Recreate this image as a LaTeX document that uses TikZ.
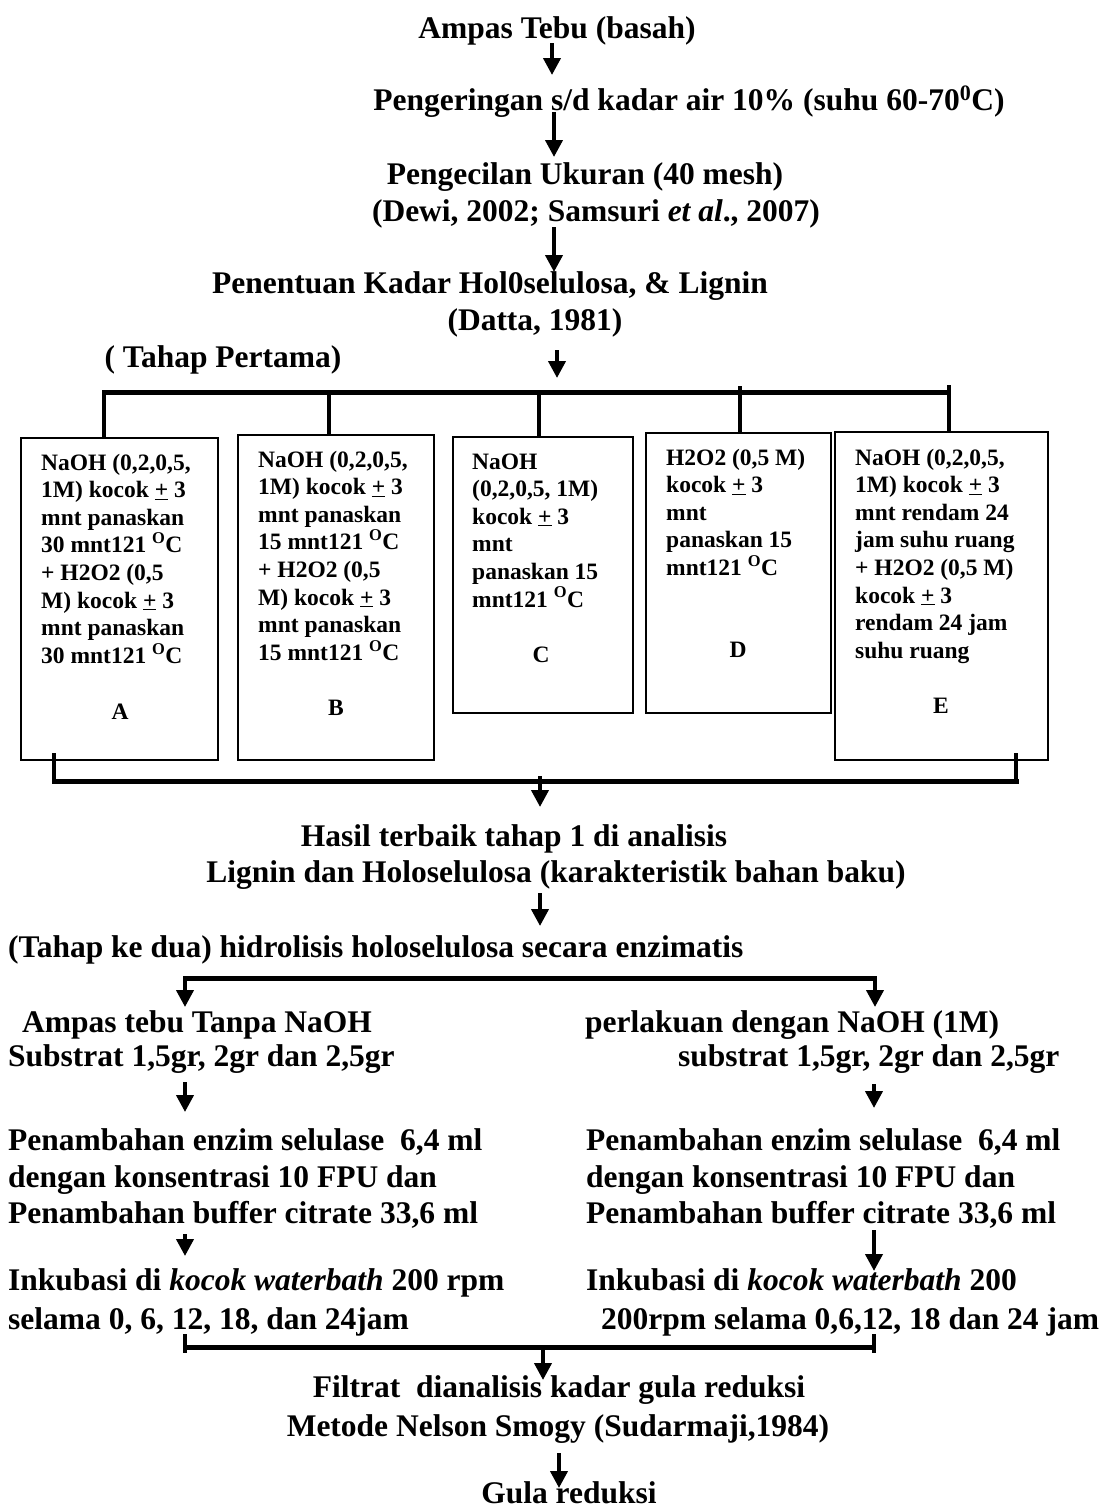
\documentclass[tikz,border=0pt]{standalone}
\usepackage{fontspec}
\setmainfont{Liberation Serif}
\usetikzlibrary{arrows.meta}
\begin{document}
\begin{tikzpicture}[x=1pt,y=-1pt,
  mtext/.style={anchor=base,inner sep=0pt,font=\bfseries\fontsize{31.5}{37}\selectfont},
  ltext/.style={mtext,anchor=base west},
  btext/.style={anchor=base west,inner sep=0pt,font=\bfseries\fontsize{23.5}{27.6}\selectfont},
  blabel/.style={anchor=base,inner sep=0pt,font=\bfseries\fontsize{23.5}{27.6}\selectfont},
  boxst/.style={draw,line width=1.5pt,inner sep=0pt,anchor=north west},
  arr/.style={line width=4pt,-{Triangle[length=17pt,width=17pt]}},
  bus/.style={line width=5pt},
  stem/.style={line width=4pt}]
\useasboundingbox[fill=white] (0,0) rectangle (1109,1510);

% ---------- top chain ----------
\node[mtext] (t1) at (557,38) {Ampas Tebu (basah)};
\node[mtext] (t2) at (689,110) {Pengeringan s/d kadar air 10\% (suhu 60-70\textsuperscript{0}C)};
\node[mtext] (t3) at (585,184) {Pengecilan Ukuran (40 mesh)};
\node[mtext] (t4) at (596,221) {(Dewi, 2002; Samsuri \textit{et al}., 2007)};
\node[mtext] (t5) at (490,293) {Penentuan Kadar Hol0selulosa, \& Lignin};
\node[mtext] (t6) at (535,330) {(Datta, 1981)};
\node[mtext] (t7) at (223,367) {( Tahap Pertama)};

\coordinate (a1s) at (552,43);  \coordinate (a1e) at (552,75);
\coordinate (a2s) at (554,112); \coordinate (a2e) at (554,157);
\coordinate (a3s) at (554,227); \coordinate (a3e) at (554,272);
\coordinate (a4s) at (557,350); \coordinate (a4e) at (557,378);
\draw[arr] (a1s) -- (a1e);
\draw[arr] (a2s) -- (a2e);
\draw[arr] (a3s) -- (a3e);
\draw[arr] (a4s) -- (a4e);

% ---------- boxes ----------
\node[boxst,minimum width=197pt,minimum height=322pt] (bA) at (20,437) {};
\node[boxst,minimum width=196pt,minimum height=325pt] (bB) at (237,434) {};
\node[boxst,minimum width=180pt,minimum height=276pt] (bC) at (452,436) {};
\node[boxst,minimum width=185pt,minimum height=280pt] (bD) at (645,432) {};
\node[boxst,minimum width=213pt,minimum height=328pt] (bE) at (834,431) {};

\coordinate (busL) at (102,392); \coordinate (busR) at (951,392);
\draw[bus] (busL) -- (busR);
\coordinate (sA) at (104,392); \draw[stem] (sA) -- (sA |- bA.north);
\coordinate (sB) at (329,390); \draw[stem] (sB) -- (sB |- bB.north);
\coordinate (sC) at (539,392); \draw[stem] (sC) -- (sC |- bC.north);
\coordinate (sD) at (740,386); \draw[stem] (sD) -- (sD |- bD.north);
\coordinate (sE) at (949,385); \draw[stem] (sE) -- (sE |- bE.north);

\node[btext] (xA) at (41,470) {\vtop{\hbox{NaOH (0,2,0,5,}\hbox{1M) kocok \underline{+} 3}\hbox{mnt panaskan}\hbox{30 mnt121 \textsuperscript{O}C}\hbox{+ H2O2 (0,5}\hbox{M) kocok \underline{+} 3}\hbox{mnt panaskan}\hbox{30 mnt121 \textsuperscript{O}C}}};
\node[btext] (xB) at (258,467) {\vtop{\hbox{NaOH (0,2,0,5,}\hbox{1M) kocok \underline{+} 3}\hbox{mnt panaskan}\hbox{15 mnt121 \textsuperscript{O}C}\hbox{+ H2O2 (0,5}\hbox{M) kocok \underline{+} 3}\hbox{mnt panaskan}\hbox{15 mnt121 \textsuperscript{O}C}}};
\node[btext] (xC) at (472,469) {\vtop{\hbox{NaOH}\hbox{(0,2,0,5, 1M)}\hbox{kocok \underline{+} 3}\hbox{mnt}\hbox{panaskan 15}\hbox{mnt121 \textsuperscript{O}C}}};
\node[btext] (xD) at (666,465) {\vtop{\hbox{H2O2 (0,5 M)}\hbox{kocok \underline{+} 3}\hbox{mnt}\hbox{panaskan 15}\hbox{mnt121 \textsuperscript{O}C}}};
\node[btext] (xE) at (855,465) {\vtop{\hbox{NaOH (0,2,0,5,}\hbox{1M) kocok \underline{+} 3}\hbox{mnt rendam 24}\hbox{jam suhu ruang}\hbox{+ H2O2 (0,5 M)}\hbox{kocok \underline{+} 3}\hbox{rendam 24 jam}\hbox{suhu ruang}}};

\node[blabel] (lA) at (120,719) {A};
\node[blabel] (lB) at (336,715) {B};
\node[blabel] (lC) at (541,662) {C};
\node[blabel] (lD) at (738,657) {D};
\node[blabel] (lE) at (941,713) {E};

% ---------- collecting bus ----------
\coordinate (tkA) at (54,753); \draw[stem] (tkA) -- (tkA |- 0,781);
\coordinate (tkE) at (1016,753); \draw[stem] (tkE) -- (tkE |- 0,781);
\coordinate (cbL) at (52,781); \coordinate (cbR) at (1019,781);
\draw[bus] (cbL) -- (cbR);
\coordinate (a5s) at (540,776); \coordinate (a5e) at (540,807);
\draw[arr] (a5s) -- (a5e);

\node[mtext] (t8) at (514,846) {Hasil terbaik tahap 1 di analisis};
\node[mtext] (t9) at (556,882) {Lignin dan Holoselulosa (karakteristik bahan baku)};
\coordinate (a6s) at (540,893); \coordinate (a6e) at (540,926);
\draw[arr] (a6s) -- (a6e);
\node[ltext] (t10) at (8,957) {(Tahap ke dua) hidrolisis holoselulosa secara enzimatis};

% ---------- branch ----------
\coordinate (brL) at (183,978); \coordinate (brR) at (877,978);
\draw[bus] (brL) -- (brR);
\coordinate (bl) at (185,976); \coordinate (blE) at (185,1007);
\coordinate (br) at (875,976); \coordinate (brE) at (875,1007);
\draw[arr] (bl) -- (blE);
\draw[arr] (br) -- (brE);

% left column
\node[ltext] (L1) at (22,1032) {Ampas tebu Tanpa NaOH};
\node[ltext] (L2) at (8,1066) {Substrat 1,5gr, 2gr dan 2,5gr};
\node[ltext] (L3) at (8,1150) {Penambahan enzim selulase~ 6,4 ml};
\node[ltext] (L4) at (8,1187) {dengan konsentrasi 10 FPU dan};
\node[ltext] (L5) at (8,1223) {Penambahan buffer citrate 33,6 ml};
\node[ltext] (L6) at (8,1290) {Inkubasi di \textit{kocok waterbath} 200 rpm};
\node[ltext] (L7) at (8,1329) {selama 0, 6, 12, 18, dan 24jam};
\coordinate (la1s) at (185,1082); \coordinate (la1e) at (185,1112);
\coordinate (la2s) at (185,1234); \coordinate (la2e) at (185,1256);
\draw[arr] (la1s) -- (la1e);
\draw[arr] (la2s) -- (la2e);

% right column
\node[ltext] (R1) at (585,1032) {perlakuan dengan NaOH (1M)};
\node[ltext] (R2) at (678,1066) {substrat 1,5gr, 2gr dan 2,5gr};
\node[ltext] (R3) at (586,1150) {Penambahan enzim selulase~ 6,4 ml};
\node[ltext] (R4) at (586,1187) {dengan konsentrasi 10 FPU dan};
\node[ltext] (R5) at (586,1223) {Penambahan buffer citrate 33,6 ml};
\node[ltext] (R6) at (586,1290) {Inkubasi di \textit{kocok waterbath} 200};
\node[ltext] (R7) at (601,1329) {200rpm selama 0,6,12, 18 dan 24 jam};
\coordinate (ra1s) at (874,1084); \coordinate (ra1e) at (874,1108);
\coordinate (ra2s) at (874,1230); \coordinate (ra2e) at (874,1271);
\draw[arr] (ra1s) -- (ra1e);
\draw[arr] (ra2s) -- (ra2e);

% ---------- merge ----------
\coordinate (mtL) at (185,1334); \draw[stem] (mtL) -- (185,1353);
\coordinate (mtR) at (874,1334); \draw[stem] (mtR) -- (874,1353);
\coordinate (mbL) at (185,1347); \coordinate (mbR) at (874,1347);
\draw[bus] (mbL) -- (mbR);
\coordinate (a7s) at (543,1345); \coordinate (a7e) at (543,1380);
\draw[arr] (a7s) -- (a7e);

\node[mtext] (F1) at (559,1397) {Filtrat~ dianalisis kadar gula reduksi};
\node[mtext] (F2) at (558,1436) {Metode Nelson Smogy (Sudarmaji,1984)};
\coordinate (a8s) at (559,1453); \coordinate (a8e) at (559,1488);
\draw[arr] (a8s) -- (a8e);
\node[mtext] (G) at (569,1503) {Gula reduksi};
\end{tikzpicture}
\end{document}
